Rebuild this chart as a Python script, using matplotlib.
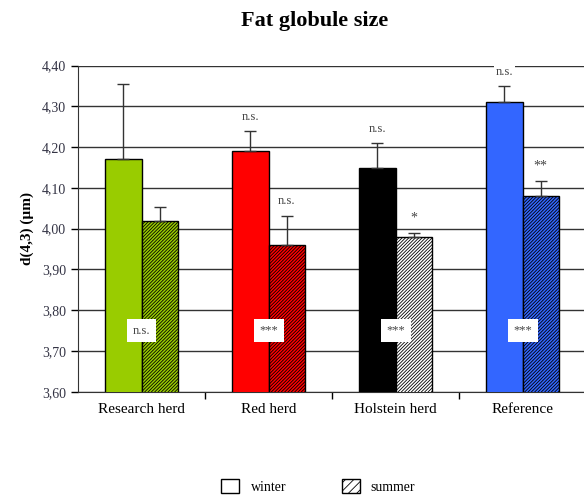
import matplotlib.pyplot as plt
import numpy as np
from matplotlib.patches import Patch
from matplotlib.ticker import FuncFormatter, FixedLocator

plt.rcParams['font.family'] = ['Liberation Serif', 'DejaVu Serif']
plt.rcParams['hatch.linewidth'] = 0.6

# group data
herds = ['Research herd', 'Red herd', 'Holstein herd', 'Reference']
colors = ['#99CC00', '#FF0000', '#000000', '#3366FF']
summer_faces = ['#99CC00', '#FF0000', '#FFFFFF', '#3366FF']

winter_mean = [4.17, 4.19, 4.15, 4.31]
winter_err = [0.184, 0.049, 0.059, 0.040]
summer_mean = [4.02, 3.96, 3.98, 4.08]
summer_err = [0.033, 0.070, 0.010, 0.037]

# significance marks
winter_sig = ['', 'n.s.', 'n.s.', 'n.s.']
summer_sig = ['', 'n.s.', '*', '**']
season_sig = ['n.s.', '***', '***', '***']

fig = plt.figure(figsize=(5.84, 4.95), dpi=100)
ax = fig.add_axes([0.1336, 0.2087, 0.87, 0.6587])

x = np.arange(len(herds))
w = 0.285

ax.bar(x - w / 2, winter_mean, w, color=colors,
       edgecolor='black', linewidth=1, zorder=3)
ax.bar(x + w / 2, summer_mean, w, color=summer_faces,
       edgecolor='black', linewidth=1, hatch='//////////', zorder=3)

ax.errorbar(x - w / 2, winter_mean, yerr=[np.zeros(4), winter_err], fmt='none',
            ecolor='#333333', elinewidth=1, capsize=4, capthick=1, zorder=4)
ax.errorbar(x + w / 2, summer_mean, yerr=[np.zeros(4), summer_err], fmt='none',
            ecolor='#333333', elinewidth=1, capsize=4, capthick=1, zorder=4)

top_box = dict(boxstyle='square,pad=0.1', facecolor='white', edgecolor='none')
for i in range(len(herds)):
    if winter_sig[i]:
        ax.text(x[i] - w / 2, winter_mean[i] + winter_err[i] + 0.035, winter_sig[i],
                ha='center', va='center', fontsize=9, color='#444444',
                bbox=top_box, zorder=5)
    if summer_sig[i]:
        ax.text(x[i] + w / 2, summer_mean[i] + summer_err[i] + 0.037, summer_sig[i],
                ha='center', va='center', fontsize=9 if summer_sig[i] == 'n.s.' else 10,
                color='#444444', zorder=5)
    ax.text(x[i], 3.75, season_sig[i], ha='center', va='center', fontsize=9,
            color='#444444', zorder=5,
            bbox=dict(boxstyle='square,pad=0.45', facecolor='white', edgecolor='none'))

ax.set_ylim(3.6, 4.4)
ax.set_xlim(-0.5, 3.5)
ax.set_yticks(np.arange(3.6, 4.41, 0.1))
ax.yaxis.set_major_formatter(FuncFormatter(lambda v, p: f'{v:.2f}'.replace('.', ',')))
ax.yaxis.grid(True, color='#333333', linewidth=1)
ax.set_axisbelow(True)

ax.set_xticks(x)
ax.set_xticklabels(herds, fontsize=11)
ax.tick_params(axis='x', length=0, pad=8)
ax.xaxis.set_minor_locator(FixedLocator([0.5, 1.5, 2.5]))
ax.tick_params(axis='x', which='minor', length=5, width=1)
ax.tick_params(axis='y', length=5, width=1, labelsize=10, labelcolor='#333344')

for side in ['top', 'right']:
    ax.spines[side].set_visible(False)
ax.spines['left'].set_color('#333333')
ax.spines['bottom'].set_color('#333333')

ax.set_ylabel('d(4,3) (µm)', fontsize=11, fontweight='bold', labelpad=6)
fig.text(0.539, 0.958, 'Fat globule size', ha='center', va='center',
         fontsize=16, fontweight='bold')

handles = [Patch(facecolor='white', edgecolor='black', label='winter'),
           Patch(facecolor='white', edgecolor='black', hatch='////', label='summer')]
fig.legend(handles=handles, loc='upper center', bbox_to_anchor=(0.545, 0.052),
           ncol=2, frameon=False, fontsize=10, handlelength=1.3, handleheight=1.2,
           columnspacing=4.0, handletextpad=0.8, borderpad=0.2)

fig.savefig('out.png', dpi=100)
